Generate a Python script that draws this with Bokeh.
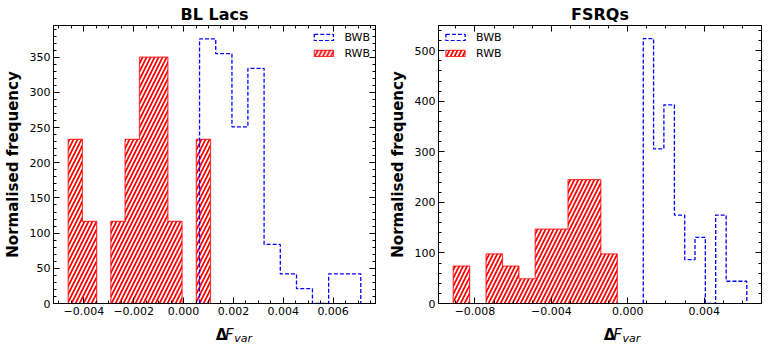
from bokeh.plotting import figure
from bokeh.layouts import row, column
from bokeh.models import (Legend, LegendItem, LinearAxis,
                          SingleIntervalTicker, CustomJSTickFormatter, Range1d)
from bokeh.core.properties import value
from bokeh.embed import file_html
from bokeh.resources import INLINE

# ---------------- data ----------------
# BL Lacs
bl_rwb_edges = [-0.00463, -0.00406, -0.00349, -0.00292, -0.00235, -0.00177,
                -0.00120, -0.00063, -0.00006, 0.00051, 0.00108]
bl_rwb_heights = [233.3, 116.7, 0, 116.7, 233.3, 350.0, 350.0, 116.7, 0, 233.3]
bl_bwb_edges = [0.00064, 0.00129, 0.00194, 0.00258, 0.00323, 0.00388,
                0.00453, 0.00517, 0.00582, 0.00647, 0.00711]
bl_bwb_heights = [376, 355, 251, 334, 84, 42, 21, 0, 42, 42]

# FSRQs
fs_rwb_edges = [-0.00914, -0.00828, -0.00742, -0.00656, -0.00570, -0.00485,
                -0.00399, -0.00313, -0.00227, -0.00141, -0.00055]
fs_rwb_heights = [74, 0, 98, 74, 49, 147, 147, 245, 245, 98]
fs_bwb_edges = [0.00081, 0.00135, 0.00189, 0.00244, 0.00298, 0.00352,
                0.00406, 0.00460, 0.00515, 0.00569, 0.00623]
fs_bwb_heights = [524, 306, 393, 175, 87, 131, 0, 175, 44, 44]

titles = ["BL Lacs", "FSRQs"]
series_labels = ["BWB", "RWB"]
ylabel = "Normalised frequency"
xlabel_parts = ["Δ", "F", "var"]

FONT = "DejaVu Sans"

XFMT = CustomJSTickFormatter(code="""
const a = Math.abs(tick);
if (a < 1e-12) { return '0.000'; }
return (tick < 0 ? '\u2212' : '') + a.toFixed(3);
""")
YFMT = CustomJSTickFormatter(code="return Math.round(tick).toString();")
NOFMT = CustomJSTickFormatter(code="return '';")


def step_xy(edges, heights):
    xs = [edges[0]]
    ys = [0]
    for i, h in enumerate(heights):
        xs += [edges[i], edges[i + 1]]
        ys += [h, h]
    xs.append(edges[-1])
    ys.append(0)
    return xs, ys


def make_panel(title, rwb_edges, rwb_h, bwb_edges, bwb_h, xr, yr,
               xstep, xminor, ystep, yminor, legend_loc, width, mleft, mright):
    p = figure(width=width, height=320, output_backend="svg", toolbar_location=None,
               x_range=Range1d(*xr), y_range=Range1d(*yr),
               min_border_left=mleft, min_border_right=mright,
               min_border_top=25, min_border_bottom=17,
               x_axis_type=None, y_axis_type=None)
    p.title.text = title
    p.title.text_font = FONT
    p.title.text_font_size = "16px"
    p.title.text_font_style = "bold"
    p.title.text_color = "black"
    p.title.align = "center"
    p.title.standoff = 3
    p.grid.visible = False
    p.outline_line_color = "black"
    p.outline_line_width = 1

    for loc in ["below", "left", "above", "right"]:
        if loc in ("below", "above"):
            ax = LinearAxis(ticker=SingleIntervalTicker(interval=xstep, num_minor_ticks=xminor),
                            formatter=XFMT if loc == "below" else NOFMT)
        else:
            ax = LinearAxis(ticker=SingleIntervalTicker(interval=ystep, num_minor_ticks=yminor),
                            formatter=YFMT if loc == "left" else NOFMT)
        ax.major_tick_in = 6
        ax.major_tick_out = 0
        ax.minor_tick_in = 3
        ax.minor_tick_out = 0
        ax.axis_line_color = "black"
        ax.major_tick_line_color = "black"
        ax.minor_tick_line_color = "black"
        ax.major_label_text_font = FONT
        ax.major_label_text_font_size = "11px"
        ax.major_label_text_color = "black"
        ax.major_label_standoff = 3
        if loc in ("above", "right"):
            ax.major_label_standoff = 0
        if loc == "left":
            ax.axis_label = ylabel
            ax.axis_label_text_font = FONT
            ax.axis_label_text_font_size = "15px"
            ax.axis_label_text_font_style = "bold"
            ax.axis_label_text_color = "black"
            ax.axis_label_standoff = 5
        p.add_layout(ax, loc)

    # RWB: filled, hatched step histogram (single outline)
    rx, ry = step_xy(rwb_edges, rwb_h)
    r_rwb = p.patch(rx, ry, fill_color="white", line_color="red", line_alpha=0.75,
                    line_width=1.2, hatch_pattern="/", hatch_color="red",
                    hatch_scale=8, hatch_weight=1.7)

    # BWB: dashed step outline
    sx, sy = step_xy(bwb_edges, bwb_h)
    p.line(sx, sy, line_color="blue", line_width=1.3, line_dash="4 2")
    # legend proxy: a zero-size box at the first BWB edge
    proxy = p.quad(left=[bwb_edges[0]], right=[bwb_edges[0]], bottom=[0], top=[0],
                   fill_color=None, line_color="blue", line_width=1.3, line_dash="4 2")

    legend = Legend(items=[LegendItem(label=series_labels[0], renderers=[proxy]),
                           LegendItem(label=series_labels[1], renderers=[r_rwb])],
                    location=legend_loc, border_line_color=None, background_fill_alpha=0,
                    glyph_width=24, glyph_height=8, label_standoff=9, spacing=2,
                    padding=4, margin=5, label_text_font=FONT, label_text_font_size="11px",
                    label_text_color="black", label_height=14)
    p.add_layout(legend)

    # x-axis label strip:  ΔF_var
    lab = figure(width=width, height=26, output_backend="svg", toolbar_location=None,
                 x_range=Range1d(0, width), y_range=Range1d(0, 26),
                 min_border=0, x_axis_type=None, y_axis_type=None)
    lab.outline_line_color = None
    lab.grid.visible = False
    lab.text(x=[194], y=[11.5], text=[xlabel_parts[0]], text_font=value(FONT),
             text_font_size="15px", text_font_style="bold", text_color="black",
             text_baseline="alphabetic", text_align="left")
    lab.text(x=[205], y=[11.5], text=[xlabel_parts[1]], text_font=value(FONT),
             text_font_size="15px", text_font_style="italic", text_color="black",
             text_baseline="alphabetic", text_align="left")
    lab.text(x=[216], y=[8.5], text=[xlabel_parts[2]], text_font=value(FONT),
             text_font_size="11px", text_font_style="italic", text_color="black",
             text_baseline="alphabetic", text_align="left")
    return column(p, lab, spacing=0)


p1 = make_panel(titles[0], bl_rwb_edges, bl_rwb_heights, bl_bwb_edges, bl_bwb_heights,
                (-0.00522, 0.0077), (0, 395), 0.002, 4, 50, 5, "top_right", 385, 53, 10)
p2 = make_panel(titles[1], fs_rwb_edges, fs_rwb_heights, fs_bwb_edges, fs_bwb_heights,
                (-0.00991, 0.0070), (0, 550), 0.004, 4, 100, 5, "top_left", 379, 53, 3)

layout = row(p1, p2, spacing=0)
open("out.html", "w").write(file_html(layout, INLINE))
